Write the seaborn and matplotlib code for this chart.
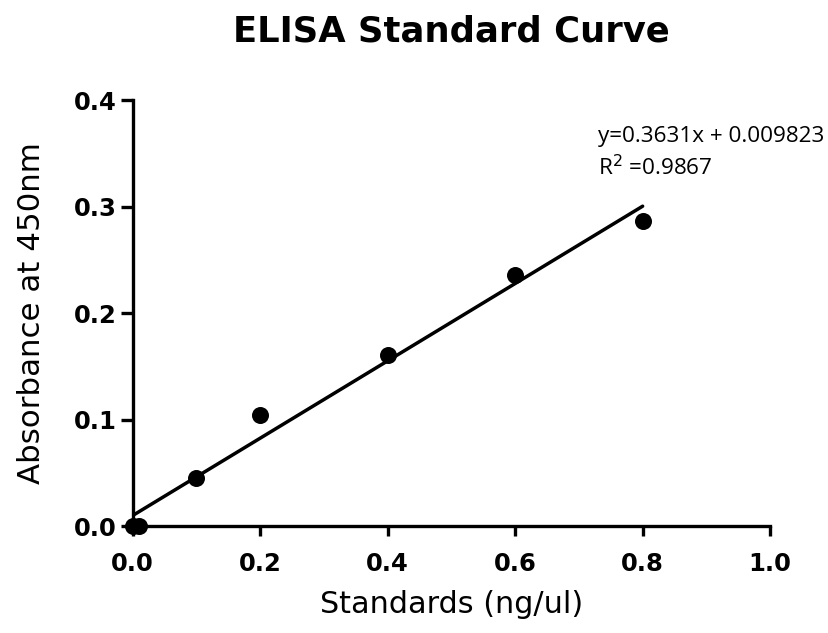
import matplotlib
matplotlib.use("Agg")
import matplotlib.pyplot as plt
import seaborn as sns
import numpy as np
import pandas as pd

# Data
standards = [0.0, 0.01, 0.1, 0.2, 0.4, 0.6, 0.8]
absorbance = [0.0, 0.0, 0.045, 0.104, 0.161, 0.236, 0.286]
slope = 0.3631
intercept = 0.009823
r_squared = 0.9867
fit_x = [0.0, 0.8]
x_ticks = [0.0, 0.2, 0.4, 0.6, 0.8, 1.0]
y_ticks = [0.0, 0.1, 0.2, 0.3, 0.4]

sns.set_style("ticks")
plt.rcParams['font.family'] = ['DejaVu Sans']
plt.rcParams['text.color'] = 'black'
plt.rcParams['axes.labelcolor'] = 'black'
plt.rcParams['xtick.color'] = 'black'
plt.rcParams['ytick.color'] = 'black'

fig = plt.figure(figsize=(8.29, 6.33), dpi=100)
ax = fig.add_axes([0.160, 0.169, 0.769, 0.673])

df = pd.DataFrame({"x": standards, "y": absorbance})
fit_df = pd.DataFrame({"x": fit_x, "y": [slope * v + intercept for v in fit_x]})

sns.lineplot(data=fit_df, x="x", y="y", ax=ax, color="black", linewidth=2.5)
sns.scatterplot(data=df, x="x", y="y", ax=ax, color="black", s=150,
                edgecolor="black", linewidth=0, clip_on=False, zorder=5)

ax.set_xlim(0, 1.0)
ax.set_ylim(0, 0.4)
ax.set_xticks(x_ticks)
ax.set_yticks(y_ticks)
ax.set_xticklabels([f"{v:.1f}" for v in x_ticks], fontsize=17.5, fontweight="bold")
ax.set_yticklabels([f"{v:.1f}" for v in y_ticks], fontsize=17.5, fontweight="bold")
ax.tick_params(axis="x", direction="out", length=7.5, width=2.4, pad=11)
ax.tick_params(axis="y", direction="out", length=8.5, width=2.4, pad=3)

for side in ["top", "right"]:
    ax.spines[side].set_visible(False)
for side in ["left", "bottom"]:
    ax.spines[side].set_linewidth(2.4)
    ax.spines[side].set_color("black")

ax.set_xlabel("Standards (ng/ul)", fontsize=21.8, labelpad=10)
ax.set_ylabel("Absorbance at 450nm", fontsize=22.2, labelpad=20)
ax.set_title("ELISA Standard Curve", fontsize=25.5, fontweight="bold", pad=42)

ax.text(0.73, 0.366, f"y={slope}x + {intercept}", fontsize=16.2,
        family=["Open Sans", "DejaVu Sans"], va="center", ha="left")
ax.text(0.73, 0.337, f"R$^2$ ={r_squared}", fontsize=16.2,
        family=["Open Sans", "DejaVu Sans"], va="center", ha="left")

fig.savefig("out.png", dpi=100)
